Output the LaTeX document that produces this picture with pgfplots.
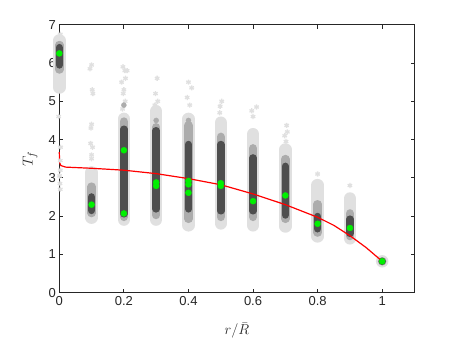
\documentclass[border=0pt]{standalone}
\usepackage{fontspec}
\setmainfont{Liberation Sans}
\usepackage{pgfplots}
\usepackage{pgfplotstable}
\pgfplotsset{compat=1.18}

\definecolor{axisgray}{RGB}{38,38,38}
\definecolor{cloudL}{RGB}{224,224,224}
\definecolor{cloudM}{RGB}{172,172,172}
\definecolor{cloudD}{RGB}{78,78,78}
\definecolor{mgreen}{RGB}{0,240,0}

% column extents of the three grey layers (light, medium, dark)
\pgfplotstableread{
x   l1   h1   l2   h2   l3   h3
0.0 5.36 6.59 5.83 6.47 5.95 6.40
0.1 1.96 3.14 2.08 2.77 2.15 2.50
0.2 1.91 4.54 1.98 4.47 2.06 4.27
0.3 1.91 4.74 2.03 4.32 2.19 4.23
0.4 1.76 4.54 1.93 4.37 2.19 3.87
0.5 1.81 4.44 1.98 4.07 2.14 3.87
0.6 1.76 4.14 1.98 3.77 2.14 3.52
0.7 1.73 3.74 1.93 3.49 2.03 3.30
0.8 1.47 2.81 1.57 2.31 1.67 1.99
0.9 1.42 2.46 1.48 2.07 1.55 1.92
1.0 0.82 0.82 0.82 0.82 0.82 0.82
}\clusters

\begin{document}
\begin{tikzpicture}
\path (-59.3pt,-50.3pt) rectangle (398.7pt,292.7pt);
\begin{axis}[
    at={(0pt,0pt)}, anchor=south west,
    width=355.2pt, height=268pt, scale only axis,
    xmin=0, xmax=1.1, ymin=0, ymax=7,
    xtick={0,0.2,0.4,0.6,0.8,1},
    ytick={0,1,2,3,4,5,6,7},
    tick align=inside,
    major tick length=4pt,
    axis line style={draw=axisgray, line width=0.8pt},
    tick style={draw=axisgray, line width=0.8pt},
    /pgf/number format/assume math mode=true,
    ticklabel style={font=\fontsize{13}{15}\selectfont, text=axisgray},
    xlabel={$r/\bar{R}$},
    ylabel={$T_f$},
    label style={font=\fontsize{15}{17}\selectfont, text=axisgray},
    xlabel style={at={(axis description cs:0.5,-0.142)}, anchor=center},
    ylabel style={at={(axis description cs:-0.082,0.5)}, anchor=center},
    clip=false,
]
% light cloud
\addplot[draw=none, mark=none, forget plot,
    error bars/.cd, y dir=plus, y explicit, error mark=none,
    error bar style={draw=cloudL, line width=12.5pt, line cap=round, solid}]
    table[x=x, y=l1, y error expr=\thisrow{h1}-\thisrow{l1}] {\clusters};
% scattered light points
\addplot[only marks, mark=asterisk, mark size=2.6pt, color=cloudL,
    mark options={line width=1.3pt}] coordinates {
    (0.003,6.75) (0.0,6.65) (-0.003,5.55) (0.002,5.4) (0.0,5.3) (-0.002,4.6)
    (0.004,3.8) (0.003,3.45) (0.003,3.2) (0.001,3.05) (0.002,2.85) (0.003,2.7)
    (0.1,5.95) (0.095,5.85) (0.102,5.3) (0.104,5.2) (0.1,4.4) (0.098,4.3)
    (0.097,3.9) (0.103,3.8) (0.1,3.6) (0.1,3.5)
    (0.197,5.9) (0.203,5.8) (0.21,5.8) (0.205,5.6) (0.193,5.5) (0.2,5.3)
    (0.198,5.2) (0.204,5.0) (0.196,4.8)
    (0.303,5.6) (0.298,5.2) (0.305,5.0) (0.296,4.9)
    (0.4,5.5) (0.41,5.35) (0.396,5.1) (0.404,4.9)
    (0.503,5.0) (0.498,4.87) (0.497,4.7)
    (0.611,4.85) (0.596,4.75) (0.6,4.6)
    (0.704,4.37) (0.706,4.2) (0.698,4.1) (0.702,3.95)
    (0.8,3.1) (0.9,2.8)
};
% medium layer
\addplot[draw=none, mark=none, forget plot,
    error bars/.cd, y dir=plus, y explicit, error mark=none,
    error bar style={draw=cloudM, line width=8.5pt, line cap=round, solid}]
    table[x=x, y=l2, y error expr=\thisrow{h2}-\thisrow{l2}] {\clusters};
\addplot[only marks, mark=*, mark size=2.5pt, color=cloudM] coordinates {
    (0.2,4.9) (0.3,4.5) (0.4,4.5)
};
% dark core
\addplot[draw=none, mark=none, forget plot,
    error bars/.cd, y dir=plus, y explicit, error mark=none,
    error bar style={draw=cloudD, line width=7.5pt, line cap=round, solid}]
    table[x=x, y=l3, y error expr=\thisrow{h3}-\thisrow{l3}] {\clusters};
% red curve
\addplot[color=red, line width=1.2pt, mark=none] coordinates {
    (0,3.67) (0.001,3.40) (0.005,3.32) (0.02,3.28) (0.1,3.25) (0.2,3.20)
    (0.3,3.11) (0.4,2.98) (0.5,2.82) (0.6,2.58) (0.7,2.30) (0.8,1.97)
    (0.85,1.76) (0.9,1.49) (0.95,1.18) (1.0,0.82)
};
% green points
\addplot[only marks, mark=*, mark size=3pt, color=mgreen] coordinates {
    (0,6.25) (0.1,2.30) (0.2,3.72) (0.2,2.07) (0.3,2.88) (0.3,2.79)
    (0.4,2.92) (0.4,2.83) (0.4,2.61) (0.5,2.86) (0.5,2.79) (0.6,2.39)
    (0.7,2.54) (0.8,1.80) (0.9,1.69) (1.0,0.82)
};
\end{axis}
\end{tikzpicture}
\end{document}
